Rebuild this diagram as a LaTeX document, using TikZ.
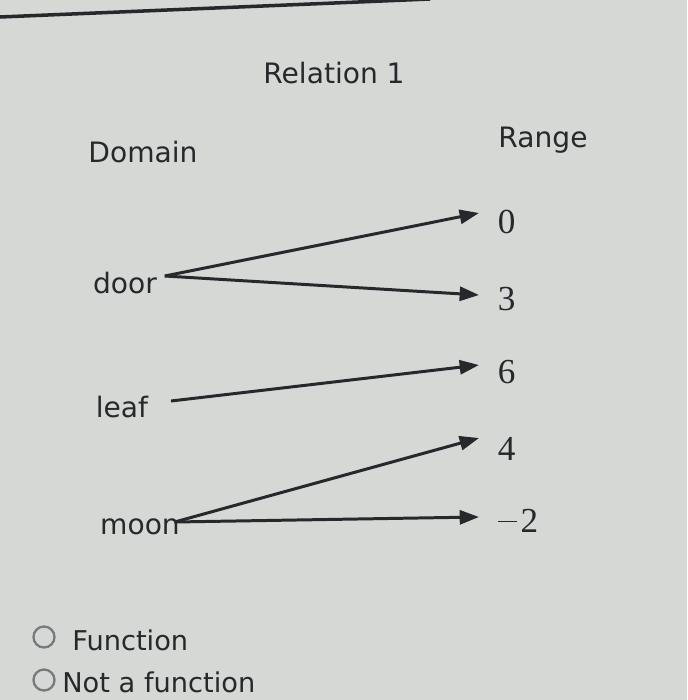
\documentclass[tikz,border=0pt]{standalone}
\usepackage{fontspec}
\setmainfont{DejaVu Sans}
\newfontfamily\numfont{Liberation Serif}
\usetikzlibrary{positioning, arrows.meta}
\definecolor{screen}{RGB}{214, 216, 213}
\definecolor{ink}{RGB}{38, 40, 44}
\definecolor{radio}{RGB}{120, 122, 126}

\tikzset{
  word/.style={font=\fontsize{16}{19}\selectfont, text=ink, inner sep=2pt},
  num/.style={font=\numfont\fontsize{20}{23}\selectfont, text=ink, inner sep=2pt, anchor=west},
  maps/.style={-{Triangle[length=11pt, width=8pt]}, ink, line width=1.7pt},
  choice/.style={font=\fontsize{15.5}{18}\selectfont, text=ink, anchor=west, inner sep=0pt},
}

\begin{document}
\begin{tikzpicture}[x=0.02cm, y=-0.02cm]
    \fill[screen] (0,0) rectangle (687,700);
    \useasboundingbox (0,0) rectangle (687,700);
    \draw[ink, line width=2pt] (0,17) -- (430,-1);

    \node[word] (title) at (334,73) {Relation 1};
    \node[word] (dom) at (143,152) {Domain};
    \node[word] (rng) at (543,140) {Range};

    % domain
    \node[word] (door) at (125,283) {door};
    \node[word] (leaf) at (122,407) {leaf};
    \node[word] (moon) at (140,527) {moon};

    % range
    \node[num] (r0) at (494,222) {0};
    \node[num] (r3) at (494,299) {3};
    \node[num] (r6) at (494,372) {6};
    \node[num] (r4) at (494,449) {4};
    \node[num] (rm2) at (494,521) {\rule[6pt]{11pt}{0.8pt}\kern2pt2};

    \draw[maps] ([shift={(4,-7)}]door.east) -- ([shift={(-15,-9)}]r0.west);
    \draw[maps] ([shift={(4,-7)}]door.east) -- ([shift={(-15,-4)}]r3.west);
    \draw[maps] ([shift={(19,-6)}]leaf.east) -- ([shift={(-15,-7)}]r6.west);
    \draw[maps] ([shift={(-9,-5)}]moon.east) -- ([shift={(-15,-11)}]r4.west);
    \draw[maps] ([shift={(-9,-5)}]moon.east) -- ([shift={(-15,-4)}]rm2.west);

    % answer choices
    \draw[radio, line width=1.3pt] (44,637) circle (10.5);
    \node[choice] (yes) at (72,640) {Function};
    \draw[radio, line width=1.3pt] (44,680) circle (10.5);
    \node[choice] (no) at (62,682) {Not a function};
\end{tikzpicture}
\end{document}
